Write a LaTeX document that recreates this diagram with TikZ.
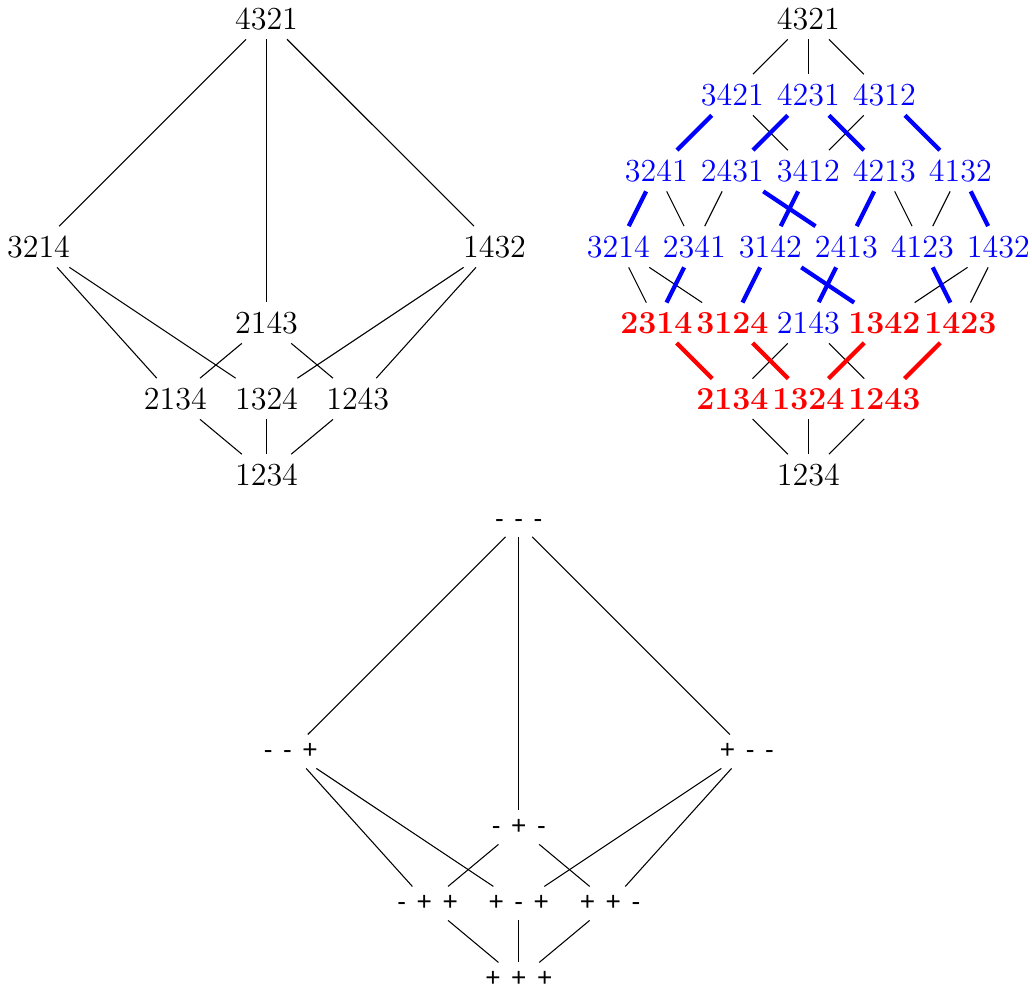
\documentclass[tikz,border=0pt]{standalone}
\usepackage{fontspec}
\newfontfamily\signfont[WordSpace=1.45]{Liberation Sans}

\begin{document}
\begin{tikzpicture}[
		perm/.style={font=\large},
		blueperm/.style={font=\large, text=blue},
		redperm/.style={font=\large\bfseries, text=red},
		sign/.style={font=\signfont\fontsize{9.8}{12}\selectfont},
		blueedge/.style={blue, ultra thick},
		rededge/.style={red, ultra thick}]
	\useasboundingbox (-3.507,0.247) rectangle (10.072,-12.74);

	% left lattice
	\node[perm] (a4321) at (0,0) {4321};
	\node[perm] (a3214) at (-3,-3) {3214};
	\node[perm] (a1432) at (3,-3) {1432};
	\node[perm] (a2143) at (0,-4) {2143};
	\node[perm] (a2134) at (-1.2,-5) {2134};
	\node[perm] (a1324) at (0,-5) {1324};
	\node[perm] (a1243) at (1.2,-5) {1243};
	\node[perm] (a1234) at (0,-6) {1234};

	\foreach \a/\b in {a4321/a3214, a4321/a2143, a4321/a1432, a3214/a2134, a3214/a1324,
			a1432/a1324, a1432/a1243, a2143/a2134, a2143/a1243,
			a2134/a1234, a1324/a1234, a1243/a1234}
		\draw (\a) -- (\b);

	% right lattice
	\begin{scope}[xshift=7.13cm]
		\node[perm] (b4321) at (0,0) {4321};

		\node[blueperm] (b3421) at (-1,-1) {3421};
		\node[blueperm] (b4231) at (0,-1) {4231};
		\node[blueperm] (b4312) at (1,-1) {4312};

		\node[blueperm] (b3241) at (-2,-2) {3241};
		\node[blueperm] (b2431) at (-1,-2) {2431};
		\node[blueperm] (b3412) at (0,-2) {3412};
		\node[blueperm] (b4213) at (1,-2) {4213};
		\node[blueperm] (b4132) at (2,-2) {4132};

		\node[blueperm] (b3214) at (-2.5,-3) {3214};
		\node[blueperm] (b2341) at (-1.5,-3) {2341};
		\node[blueperm] (b3142) at (-0.5,-3) {3142};
		\node[blueperm] (b2413) at (0.5,-3) {2413};
		\node[blueperm] (b4123) at (1.5,-3) {4123};
		\node[blueperm] (b1432) at (2.5,-3) {1432};

		\node[redperm] (b2314) at (-2,-4) {2314};
		\node[redperm] (b3124) at (-1,-4) {3124};
		\node[blueperm] (b2143) at (0,-4) {2143};
		\node[redperm] (b1342) at (1,-4) {1342};
		\node[redperm] (b1423) at (2,-4) {1423};

		\node[redperm] (b2134) at (-1,-5) {2134};
		\node[redperm] (b1324) at (0,-5) {1324};
		\node[redperm] (b1243) at (1,-5) {1243};

		\node[perm] (b1234) at (0,-6) {1234};

		\foreach \a/\b in {b4321/b3421, b4321/b4231, b4321/b4312, b3421/b3412, b4312/b3412,
				b3241/b2341, b2431/b2341, b4213/b4123, b4132/b4123,
				b3214/b2314, b3214/b3124, b1432/b1342, b1432/b1423,
				b2143/b2134, b2143/b1243,
				b2134/b1234, b1324/b1234, b1243/b1234}
			\draw (\a) -- (\b);

		\foreach \a/\b in {b3421/b3241, b4231/b2431, b4231/b4213, b4312/b4132,
				b3241/b3214, b2431/b2413, b3412/b3142, b4213/b2413, b4132/b1432,
				b2341/b2314, b3142/b3124, b3142/b1342, b2413/b2143, b4123/b1423}
			\draw[blueedge] (\a) -- (\b);

		\foreach \a/\b in {b2314/b2134, b3124/b1324, b1342/b1324, b1423/b1243}
			\draw[rededge] (\a) -- (\b);
	\end{scope}

	% sign lattice
	\begin{scope}[xshift=3.32cm, yshift=-6.64cm]
		\node[sign] (mmm) at (0,0) {- - -};
		\node[sign] (mmp) at (-3,-3) {- - +};
		\node[sign] (pmm) at (3,-3) {+ - -};
		\node[sign] (mpm) at (0,-4) {- + -};
		\node[sign] (mpp) at (-1.2,-5) {- + +};
		\node[sign] (pmp) at (0,-5) {+ - +};
		\node[sign] (ppm) at (1.2,-5) {+ + -};
		\node[sign] (ppp) at (0,-6) {+ + +};

		\foreach \a/\b in {mmm/mmp, mmm/mpm, mmm/pmm, mmp/mpp, mmp/pmp,
				pmm/pmp, pmm/ppm, mpm/mpp, mpm/ppm,
				mpp/ppp, pmp/ppp, ppm/ppp}
			\draw (\a) -- (\b);
	\end{scope}
\end{tikzpicture}
\end{document}
